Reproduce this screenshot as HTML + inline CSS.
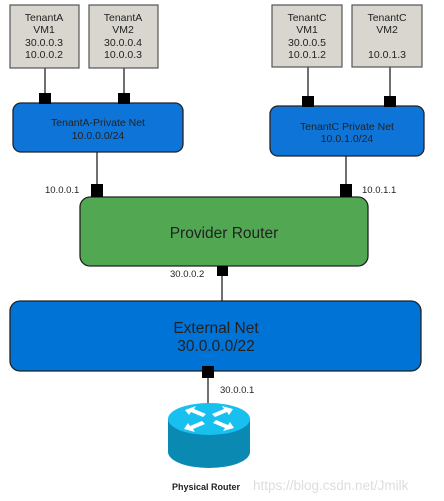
<!DOCTYPE html>
<html><head><meta charset="utf-8"><style>
body{margin:0;background:#fff;width:444px;height:501px;overflow:hidden}
svg{display:block}
text{font-family:"Liberation Sans",sans-serif;fill:#222}
</style></head><body>
<svg width="444" height="501" viewBox="0 0 444 501">
<!-- lines -->
<g stroke="#222" stroke-width="1.3">
<line x1="45" y1="68" x2="45" y2="95"/><line x1="124" y1="68" x2="124" y2="95"/>
<line x1="308" y1="67" x2="308" y2="98"/><line x1="390" y1="67" x2="390" y2="98"/>
<line x1="97" y1="152" x2="97" y2="186"/><line x1="346" y1="156" x2="346" y2="186"/>
<line x1="222" y1="266" x2="222" y2="302"/><line x1="208" y1="370" x2="208" y2="406"/>
</g>
<!-- VMs -->
<g fill="#d9d6d0" stroke="#555" stroke-width="1.2">
<rect x="10" y="5" width="69" height="63"/><rect x="89" y="5" width="69" height="63"/>
<rect x="272" y="5" width="70" height="62"/><rect x="352" y="5" width="70" height="62"/>
</g>
<g font-size="10.5" text-anchor="middle">
<text x="44" y="21">TenantA</text><text x="44" y="33">VM1</text><text x="44" y="46">30.0.0.3</text><text x="44" y="58">10.0.0.2</text>
<text x="123" y="21">TenantA</text><text x="123" y="33">VM2</text><text x="123" y="46">30.0.0.4</text><text x="123" y="58">10.0.0.3</text>
<text x="307" y="21">TenantC</text><text x="307" y="33">VM1</text><text x="307" y="46">30.0.0.5</text><text x="307" y="58">10.0.1.2</text>
<text x="387" y="21">TenantC</text><text x="387" y="33">VM2</text><text x="387" y="58">10.0.1.3</text>
</g>
<!-- nets -->
<rect x="13" y="103" width="170" height="49" rx="8" fill="#0f74d8" stroke="#222" stroke-width="1.3"/>
<rect x="270" y="106" width="154" height="50" rx="8" fill="#0f74d8" stroke="#222" stroke-width="1.3"/>
<rect x="80" y="197" width="288" height="69" rx="10" fill="#52a852" stroke="#222" stroke-width="1.3"/>
<rect x="10" y="301" width="411" height="70" rx="10" fill="#0073d6" stroke="#222" stroke-width="1.3"/>
<g text-anchor="middle">
<text x="98" y="126" font-size="10.5" fill="#111">TenantA-Private Net</text><text x="98" y="139" font-size="10.5">10.0.0.0/24</text>
<text x="347" y="130" font-size="10.5">TenantC Private Net</text><text x="347" y="142" font-size="10.5">10.0.1.0/24</text>
<text x="224" y="238" font-size="15.5" fill="#111">Provider Router</text>
<text x="216" y="333" font-size="15.5" fill="#111">External Net</text><text x="216" y="351" font-size="15.5" fill="#111">30.0.0.0/22</text>
</g>
<!-- ports -->
<g fill="#000">
<rect x="39" y="93" width="12" height="11"/><rect x="118" y="93" width="12" height="11"/>
<rect x="302" y="96" width="12" height="11"/><rect x="384" y="96" width="12" height="11"/>
<rect x="91" y="184" width="12" height="13"/><rect x="340" y="184" width="12" height="13"/>
<rect x="217" y="266" width="11" height="10"/><rect x="202" y="366" width="12" height="12"/>
</g>
<g font-size="9.5">
<text x="45" y="193">10.0.0.1</text><text x="362" y="193">10.0.1.1</text>
<text x="170" y="277">30.0.0.2</text><text x="220" y="393">30.0.0.1</text>
</g>
<!-- router -->
<path d="M168 419 L168 452 A41 16 0 0 0 250 452 L250 419 Z" fill="#0a89b3"/>
<ellipse cx="209" cy="419" rx="41" ry="16" fill="#17c0ee"/>
<g fill="#fff">
<polygon points="185,410 196,406 194,409 206,414 203,417 191,412 189,415"/>
<polygon points="233,409 222,406 224,409 212,414 215,417 227,412 229,415"/>
<polygon points="184,429 195,432 193,429 205,424 202,421 190,426 188,423"/>
<polygon points="234,428 223,431 225,428 213,423 216,420 228,425 230,422"/>
</g>
<text x="172" y="490" font-size="9" font-weight="bold" fill="#333">Physical Router</text>
<text x="253" y="490" font-size="13.5" fill="#ddd" style="fill:#ddd">https://blog.csdn.net/Jmilk</text>
</svg>
</body></html>
